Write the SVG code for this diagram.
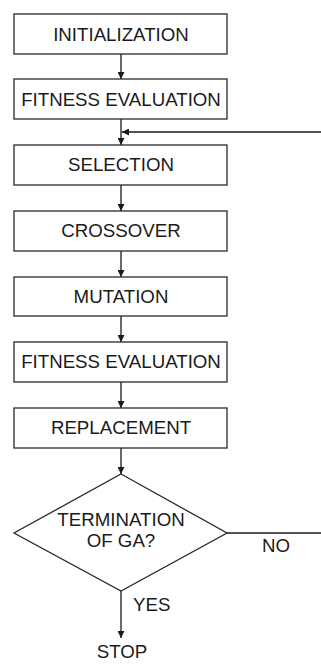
<svg xmlns="http://www.w3.org/2000/svg" width="321" height="664" viewBox="0 0 321 664">
<style>
.box{fill:#fff;stroke:#2a2a2a;stroke-width:1.3}
.t{font-family:"Liberation Sans",Arial,sans-serif;font-size:18.7px;fill:#1a1a1a;text-anchor:middle}
.l{font-family:"Liberation Sans",Arial,sans-serif;font-size:18.7px;fill:#1a1a1a}
.c{fill:none;stroke:#1a1a1a;stroke-width:1.3}
</style>
<defs>
<marker id="ah" viewBox="0 0 10 10" refX="10" refY="5" markerWidth="7" markerHeight="7" markerUnits="userSpaceOnUse" orient="auto">
<path d="M0,0 L10,5 L0,10 Z" fill="#1a1a1a"/>
</marker>
</defs>
<rect width="321" height="664" fill="#fff"/>
<g id="connectors">
<line class="c" x1="121" y1="54" x2="121" y2="79" marker-end="url(#ah)"/>
<line class="c" x1="121" y1="119" x2="121" y2="145" marker-end="url(#ah)"/>
<line class="c" x1="321" y1="132" x2="122" y2="132" marker-end="url(#ah)"/>
<line class="c" x1="121" y1="185" x2="121" y2="211" marker-end="url(#ah)"/>
<line class="c" x1="121" y1="251" x2="121" y2="277" marker-end="url(#ah)"/>
<line class="c" x1="121" y1="316" x2="121" y2="342" marker-end="url(#ah)"/>
<line class="c" x1="121" y1="382" x2="121" y2="408" marker-end="url(#ah)"/>
<line class="c" x1="121" y1="448" x2="121" y2="474" marker-end="url(#ah)"/>
<line class="c" x1="227" y1="533" x2="321" y2="533"/>
<line class="c" x1="121" y1="591" x2="121" y2="638" marker-end="url(#ah)"/>
<text class="l" x="262" y="552">NO</text>
<text class="l" x="133" y="611">YES</text>
</g>
<g id="initialization">
<rect class="box" x="14" y="14" width="213" height="40"/>
<text class="t" x="121" y="40.5">INITIALIZATION</text>
</g>
<g id="fitness1">
<rect class="box" x="14" y="79" width="213" height="40"/>
<text class="t" x="121" y="105.5">FITNESS EVALUATION</text>
</g>
<g id="selection">
<rect class="box" x="14" y="145" width="213" height="40"/>
<text class="t" x="121" y="171">SELECTION</text>
</g>
<g id="crossover">
<rect class="box" x="14" y="211" width="213" height="40"/>
<text class="t" x="121" y="237">CROSSOVER</text>
</g>
<g id="mutation">
<rect class="box" x="14" y="277" width="213" height="39"/>
<text class="t" x="121" y="302.5">MUTATION</text>
</g>
<g id="fitness2">
<rect class="box" x="14" y="342" width="213" height="40"/>
<text class="t" x="121" y="368">FITNESS EVALUATION</text>
</g>
<g id="replacement">
<rect class="box" x="14" y="408" width="213" height="40"/>
<text class="t" x="121" y="434">REPLACEMENT</text>
</g>
<g id="termination">
<polygon class="box" points="121,474 227,533 121,591 14,533"/>
<text class="t" x="121" y="526">TERMINATION</text>
<text class="t" x="121" y="547">OF GA?</text>
</g>
<g id="stop">
<text class="t" x="122" y="658">STOP</text>
</g>
</svg>
